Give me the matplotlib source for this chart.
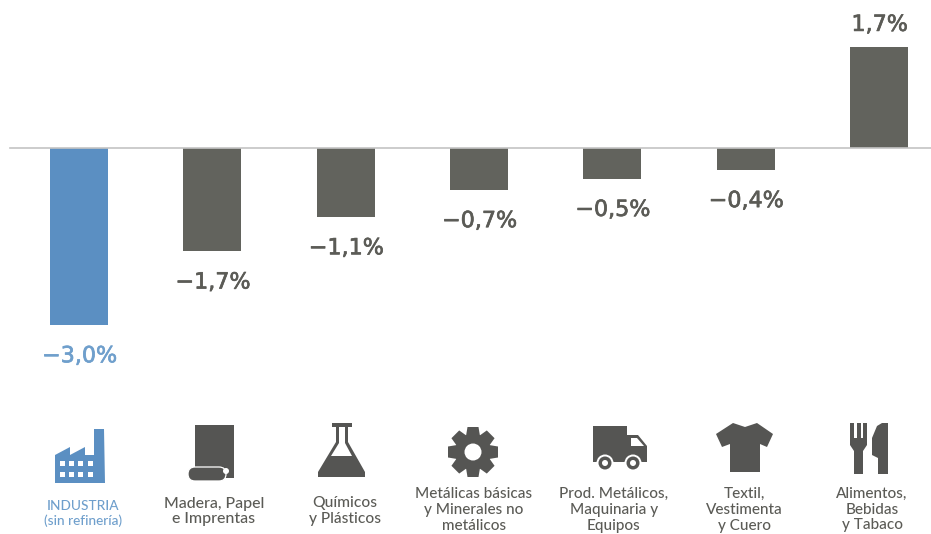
from matplotlib import pyplot as plt
from matplotlib import patheffects as pe
from matplotlib.patches import Circle, FancyBboxPatch, Polygon, Rectangle
import numpy as np

W, H = 931, 534

# (bar heights), labels as printed
categories = ['INDUSTRIA\n(sin refinería)', 'Madera, Papel\ne Imprentas', 'Químicos\ny Plásticos',
              'Metálicas básicas\ny Minerales no\nmetálicos', 'Prod. Metálicos,\nMaquinaria y\nEquipos',
              'Textil,\nVestimenta\ny Cuero', 'Alimentos,\nBebidas\ny Tabaco']
values = [-3.0, -1.75, -1.17, -0.71, -0.52, -0.37, 1.71]
value_labels = ['−3,0%', '−1,7%', '−1,1%', '−0,7%', '−0,5%', '−0,4%', '1,7%']

GREY = '#62635d'
BLUE = '#5b8fc2'
TEXT = '#5b5b56'
ICON = '#555553'
LABEL_BLUE = '#6f9fcc'

plt.rcParams['font.family'] = ['Lato', 'DejaVu Sans']

fig = plt.figure(figsize=(W / 100, H / 100), dpi=100)

# bars: 133.3 px per category, first one centred at x=79; 59 px per unit, zero at y=148
ax = fig.add_axes([0, 0, 1, 1])
step = 800 / 6
x0 = 79
ax.set_xlim(-x0 / step, (W - x0) / step)
ax.set_ylim(-(H - 148) / 59, 148 / 59)
ax.axis('off')

x = np.arange(len(values))
colors = [BLUE] + [GREY] * (len(values) - 1)
ax.bar(x, values, width=58 / step, color=colors, edgecolor='none', zorder=2)
ax.plot([(10 - x0) / step, (W - x0) / step], [0, 0], color='#c4c4c4', lw=1.2, zorder=3)

for i, (v, lab) in enumerate(zip(values, value_labels)):
    off = 16 if v > 0 else -22.5
    col = LABEL_BLUE if i == 0 else TEXT
    t = ax.annotate(lab, (i, v), xytext=(0.5, off), textcoords='offset points', ha='center', va='center',
                    fontsize=16, family='DejaVu Sans', color=col)
    t.set_path_effects([pe.withStroke(linewidth=0.5, foreground=col)])

# overlay in picture pixels for the icons and the captions
ov = fig.add_axes([0, 0, 1, 1])
ov.set_xlim(0, W)
ov.set_ylim(H, 0)
ov.axis('off')
ov.patch.set_alpha(0)

cap_x = [83, 214, 345, 474, 614, 744, 872]
cap_y = [513.5, 511.5, 511, 510, 510, 510, 509.5]
cap_size = [9.8, 11.4, 11.2, 11, 11, 11, 11]
for i, (c, cx, cy, fs) in enumerate(zip(categories, cap_x, cap_y, cap_size)):
    ov.text(cx, cy, c, ha='center', va='center', fontsize=fs, linespacing=1.15, fontweight='medium',
            color=LABEL_BLUE if i == 0 else TEXT)


def poly(pts, color=ICON, z=3):
    ov.add_patch(Polygon(pts, closed=True, fc=color, ec='none', zorder=z))


def rect(x0, y0, w, h, color=ICON, z=3):
    ov.add_patch(Rectangle((x0, y0), w, h, fc=color, ec='none', zorder=z))


# factory
poly([(55, 455), (70, 447), (70, 455), (85, 447), (85, 455), (94, 455), (94, 429), (104, 429),
      (105, 483), (55, 483)], BLUE)
for wx in (60, 69, 78, 88):
    for wy in (461, 472):
        rect(wx, wy, 5, 5, 'white', 4)

# paper roll
rect(195, 425, 39, 53)
ov.add_patch(FancyBboxPatch((188, 467), 38, 14, boxstyle='round,pad=0,rounding_size=7', fc=ICON,
                            ec='white', lw=0.9, zorder=4))
ov.add_patch(Circle((226, 471), 3, fc='white', ec='none', zorder=5))

# flask
rect(332, 423, 20, 4)
poly([(336, 427), (348, 427), (348, 442), (365, 472), (365, 477), (318, 477), (318, 472), (336, 442)])
poly([(339, 427), (345, 427), (345, 443), (352, 456), (331, 456), (339, 443)], 'white', 4)

# gear
teeth = 8
for k in range(teeth):
    a = 2 * np.pi * k / teeth
    d = np.array([np.cos(a), np.sin(a)])
    n = np.array([-d[1], d[0]])
    c = np.array([473, 452])
    poly([c + 16 * d + 7 * n, c + 25 * d + 5.5 * n, c + 25 * d - 5.5 * n, c + 16 * d - 7 * n])
ov.add_patch(Circle((473, 452), 18, fc=ICON, ec='none', zorder=3))
ov.add_patch(Circle((473, 452), 8.5, fc='white', ec='none', zorder=4))

# truck
rect(593, 426, 34, 36)
poly([(627, 435), (638, 435), (647, 446), (647, 462), (627, 462)])
poly([(631, 438), (637, 438), (644, 446), (631, 446)], 'white', 4)
for wx in (605, 633):
    ov.add_patch(Circle((wx, 463), 8.5, fc='white', ec='none', zorder=4))
    ov.add_patch(Circle((wx, 463), 6.5, fc=ICON, ec='none', zorder=5))
    ov.add_patch(Circle((wx, 463), 3, fc='white', ec='none', zorder=6))

# t-shirt
poly([(733, 423), (745, 427), (757, 423), (773, 434), (767, 447), (760, 444), (760, 472), (730, 472),
      (730, 444), (722, 447), (716, 434)])

# fork and knife
for fx in (850, 856.5, 863):
    rect(fx, 423, 4, 18)
poly([(850, 438), (867, 438), (867, 445), (863, 451), (863, 474), (854, 474), (854, 451), (850, 445)])
poly([(888, 423), (888, 474), (878, 474), (878, 458), (872, 455), (872, 438), (877, 426), (882, 423)])

fig.savefig('out.png', dpi=100)
